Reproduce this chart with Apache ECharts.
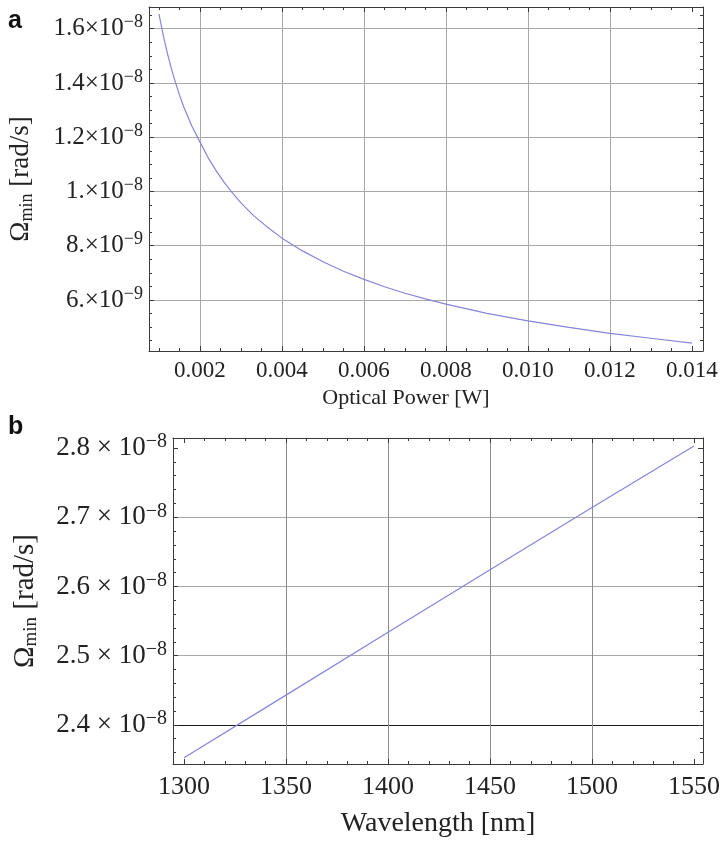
<!DOCTYPE html>
<html>
<head>
<meta charset="utf-8">
<script src="https://cdn.jsdelivr.net/npm/echarts@6/dist/echarts.min.js"></script>
<style>
html,body{margin:0;padding:0;background:#fff;}
#chart{width:723px;height:842px;}
</style>
</head>
<body>
<div id="chart"></div>
<script>
// ---- Panel a: Omega_min vs optical power ----
const powerW = [0.001, 0.0011, 0.0012, 0.0013, 0.0014, 0.0015, 0.0016, 0.0018, 0.002, 0.0022, 0.0024, 0.0026, 0.0028, 0.003, 0.0033, 0.0036, 0.004, 0.0045, 0.005, 0.0055, 0.006, 0.0065, 0.007, 0.0075, 0.008, 0.009, 0.010, 0.011, 0.012, 0.013, 0.014];
const omegaVsPower = [1.654e-8, 1.578e-8, 1.512e-8, 1.454e-8, 1.402e-8, 1.355e-8, 1.313e-8, 1.241e-8, 1.182e-8, 1.124e-8, 1.075e-8, 1.032e-8, 9.93e-9, 9.58e-9, 9.12e-9, 8.74e-9, 8.28e-9, 7.81e-9, 7.41e-9, 7.06e-9, 6.76e-9, 6.49e-9, 6.25e-9, 6.04e-9, 5.85e-9, 5.51e-9, 5.23e-9, 4.99e-9, 4.77e-9, 4.59e-9, 4.41e-9];

// ---- Panel b: Omega_min vs wavelength ----
const wavelengthNm = [1300, 1350, 1400, 1450, 1500, 1550];
const omegaVsWavelength = [2.3525e-8, 2.443e-8, 2.534e-8, 2.624e-8, 2.714e-8, 2.803e-8];

// ---- Tick labels ----
const aXTicks = [0.002, 0.004, 0.006, 0.008, 0.010, 0.012, 0.014];
const aXTickLabels = ['0.002', '0.004', '0.006', '0.008', '0.010', '0.012', '0.014'];
const aYTicks = [6e-9, 8e-9, 1e-8, 1.2e-8, 1.4e-8, 1.6e-8];
const aYTickMantissas = ['6.', '8.', '1.', '1.2', '1.4', '1.6'];
const aYTickExponents = ['\u22129', '\u22129', '\u22128', '\u22128', '\u22128', '\u22128'];
const aXGrid = [0.002, 0.004, 0.006, 0.008, 0.010, 0.012];
const aYGrid = [6e-9, 8e-9, 1e-8, 1.2e-8, 1.4e-8, 1.6e-8];

const bXTicks = [1300, 1350, 1400, 1450, 1500, 1550];
const bXTickLabels = ['1300', '1350', '1400', '1450', '1500', '1550'];
const bYTicks = [2.4e-8, 2.5e-8, 2.6e-8, 2.7e-8, 2.8e-8];
const bYTickMantissas = ['2.4', '2.5', '2.6', '2.7', '2.8'];
const bYTickExponents = ['\u22128', '\u22128', '\u22128', '\u22128', '\u22128'];
const bXGrid = [1350, 1400, 1450, 1500];
const bYGrid = [2.5e-8, 2.6e-8, 2.7e-8];
const bAxisLineY = [2.4e-8];

// axis ranges
const aXRange = [0.000756, 0.01427];
const aYRange = [4.12e-9, 1.68e-8];
const bXRange = [1294.6, 1554.4];
const bYRange = [2.3435e-8, 2.8145e-8];

// minor ticks
function minorTicks(kFrom, kTo, step, skipEvery) {
  const out = [];
  for (let k = kFrom; k <= kTo; k++) {
    if (k % skipEvery === 0) continue;
    out.push(parseFloat((k * step).toPrecision(8)));
  }
  return out;
}
const aXMinor = minorTicks(2, 28, 0.0005, 4);
const aYMinor = minorTicks(9, 33, 0.5e-9, 4);
const bXMinor = minorTicks(130, 155, 10, 5);
const bYMinor = minorTicks(118, 140, 2e-10, 5);

const SERIF = "'Liberation Serif','Times New Roman',serif";
const FRAME = '#3a3a3a';
const LINEC = '#8585da';

function idxOf(arr, v) {
  let best = 0, bd = Infinity;
  arr.forEach((a, i) => { const d = Math.abs(a - v); if (d < bd) { bd = d; best = i; } });
  return best;
}

function gridAxis(dim, g, range, values, color) {
  return {
    type: 'value', gridIndex: g, min: range[0], max: range[1], scale: true,
    position: dim === 'x' ? 'bottom' : 'left',
    axisLine: { show: false, onZero: false },
    axisTick: { show: false, customValues: values },
    axisLabel: { show: false },
    splitLine: { show: true, lineStyle: { color: color, width: 1 } }
  };
}

function makeAxes(dim, g, range, majors, minors, grids, gridColor, labelCfg, nameCfg) {
  const sides = dim === 'x' ? ['bottom', 'top'] : ['left', 'right'];
  const base = { type: 'value', gridIndex: g, min: range[0], max: range[1], scale: true };
  const axes = [];
  axes.push(Object.assign({}, base, {
    position: sides[0],
    axisLine: { show: true, onZero: false, lineStyle: { color: FRAME, width: 1 } },
    axisTick: { show: true, inside: true, length: 5, customValues: majors, lineStyle: { color: FRAME, width: 1 } },
    axisLabel: Object.assign({ show: true, customValues: majors }, labelCfg),
    splitLine: { show: false }
  }, nameCfg));
  axes.push(Object.assign({}, base, {
    position: sides[0],
    axisLine: { show: false, onZero: false },
    axisTick: { show: true, inside: true, length: 3, customValues: minors, lineStyle: { color: FRAME, width: 1 } },
    axisLabel: { show: false },
    splitLine: { show: false }
  }));
  axes.push(Object.assign({}, base, {
    position: sides[1],
    axisLine: { show: true, onZero: false, lineStyle: { color: FRAME, width: 1 } },
    axisTick: { show: true, inside: true, length: 5, customValues: majors, lineStyle: { color: FRAME, width: 1 } },
    axisLabel: { show: false },
    splitLine: { show: false }
  }));
  axes.push(Object.assign({}, base, {
    position: sides[1],
    axisLine: { show: false, onZero: false },
    axisTick: { show: true, inside: true, length: 3, customValues: minors, lineStyle: { color: FRAME, width: 1 } },
    axisLabel: { show: false },
    splitLine: { show: false }
  }));
  axes.push(gridAxis(dim, g, range, grids, gridColor));
  return axes;
}

const aXAxes = makeAxes('x', 0, aXRange, aXTicks, aXMinor, aXGrid, '#a8a8a8', {
  margin: 8, fontFamily: SERIF, fontSize: 23, color: '#222',
  formatter: v => aXTickLabels[idxOf(aXTicks, v)]
}, {
  name: 'Optical Power [W]', nameLocation: 'middle', nameGap: 36,
  nameTextStyle: { fontFamily: SERIF, fontSize: 22, color: '#222', padding: [0, 40, 0, 0] }
});
const aYAxes = makeAxes('y', 0, aYRange, aYTicks, aYMinor, aYGrid, '#a8a8a8', {
  margin: 6, color: '#222',
  formatter: v => { const i = idxOf(aYTicks, v); return '{m|' + aYTickMantissas[i] + '\u00d710}{s|' + aYTickExponents[i] + '}'; },
  rich: {
    m: { fontFamily: SERIF, fontSize: 25, color: '#222', lineHeight: 30, verticalAlign: 'middle' },
    s: { fontFamily: SERIF, fontSize: 18, color: '#222', lineHeight: 17, verticalAlign: 'top' }
  }
}, {
  name: '{o|\u03a9}{sub|min}{o| [rad/s]}', nameLocation: 'middle', nameGap: 113, nameRotate: 90,
  nameTextStyle: {
    rich: {
      o: { fontFamily: SERIF, fontSize: 27, color: '#222', lineHeight: 30, verticalAlign: 'middle' },
      sub: { fontFamily: SERIF, fontSize: 18, color: '#222', lineHeight: 13, verticalAlign: 'bottom' }
    }
  }
});
const bXAxes = makeAxes('x', 1, bXRange, bXTicks, bXMinor, bXGrid, '#8c8c8c', {
  margin: 10, fontFamily: SERIF, fontSize: 26, color: '#222',
  formatter: v => bXTickLabels[idxOf(bXTicks, v)]
}, {
  name: 'Wavelength [nm]', nameLocation: 'middle', nameGap: 46,
  nameTextStyle: { fontFamily: SERIF, fontSize: 28, color: '#222' }
});
const bYAxes = makeAxes('y', 1, bYRange, bYTicks, bYMinor, bYGrid, '#a8a8a8', {
  margin: 6, color: '#222',
  formatter: v => { const i = idxOf(bYTicks, v); return '{m|' + bYTickMantissas[i] + ' \u00d7 10}{s|' + bYTickExponents[i] + '}'; },
  rich: {
    m: { fontFamily: SERIF, fontSize: 27, color: '#222', lineHeight: 32, verticalAlign: 'middle' },
    s: { fontFamily: SERIF, fontSize: 20, color: '#222', lineHeight: 19, verticalAlign: 'top' }
  }
}, {
  name: '{o|\u03a9}{sub|min}{o| [rad/s]}', nameLocation: 'middle', nameGap: 132, nameRotate: 90,
  nameTextStyle: {
    rich: {
      o: { fontFamily: SERIF, fontSize: 29, color: '#222', lineHeight: 32, verticalAlign: 'middle' },
      sub: { fontFamily: SERIF, fontSize: 19, color: '#222', lineHeight: 14, verticalAlign: 'bottom' }
    }
  }
});
// the black horizontal axis line at 2.4e-8 in panel b
bYAxes.push(gridAxis('y', 1, bYRange, bAxisLineY, '#1a1a1a'));

const option = {
  animation: false,
  backgroundColor: '#ffffff',
  title: [
    { text: 'a', left: 8, top: 9, padding: 0, textStyle: { fontFamily: "'Liberation Sans',Arial,sans-serif", fontWeight: 'bold', fontSize: 25, color: '#111' } },
    { text: 'b', left: 8, top: 415, padding: 0, textStyle: { fontFamily: "'Liberation Sans',Arial,sans-serif", fontWeight: 'bold', fontSize: 25, color: '#111' } }
  ],
  grid: [
    { left: 149, top: 7, width: 554, height: 344, containLabel: false, outerBoundsMode: 'none' },
    { left: 173, top: 438, width: 530, height: 326, containLabel: false, outerBoundsMode: 'none' }
  ],
  xAxis: aXAxes.concat(bXAxes),
  yAxis: aYAxes.concat(bYAxes),
  series: [
    {
      name: 'Omega vs power', type: 'line', xAxisIndex: 0, yAxisIndex: 0,
      data: powerW.map((p, i) => [p, omegaVsPower[i]]),
      showSymbol: false, smooth: false, silent: true,
      lineStyle: { color: LINEC, width: 1.2 }
    },
    {
      name: 'Omega vs wavelength', type: 'line', xAxisIndex: 5, yAxisIndex: 5,
      data: wavelengthNm.map((w, i) => [w, omegaVsWavelength[i]]),
      showSymbol: false, silent: true,
      lineStyle: { color: LINEC, width: 1.2 }
    }
  ]
};

const chart = echarts.init(document.getElementById('chart'), null, { renderer: 'canvas' });
chart.setOption(option);
</script>
</body>
</html>
